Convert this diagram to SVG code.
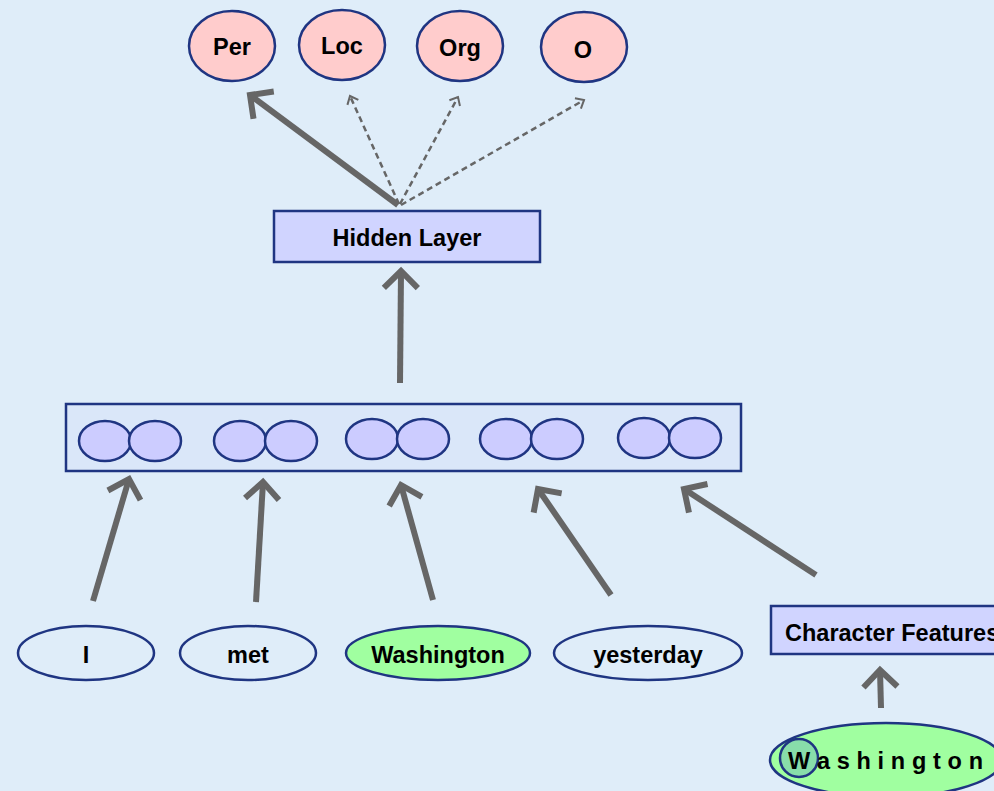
<svg xmlns="http://www.w3.org/2000/svg" width="994" height="791" viewBox="0 0 994 791">
  <defs>
    <style>
      .lbl { font-family: "Liberation Sans", Arial, sans-serif; font-weight: bold; font-size: 23.5px; fill: #000; text-anchor: middle; dominant-baseline: central; }
      .tag { fill: #FFCCCC; stroke: #1F3582; stroke-width: 2.5; }
      .word { fill: #DFEDF9; stroke: #1F3582; stroke-width: 2.5; }
      .hit { fill: #A0FFA0; stroke: #1F3582; stroke-width: 2.5; }
      .box { fill: #D0D4FF; stroke: #1F3582; stroke-width: 2.5; }
      .unit { fill: #CCCCFF; stroke: #1F3582; stroke-width: 2.5; }
      .thick { stroke: #666; stroke-width: 6; fill: none; marker-end: url(#chev); }
      .dash { stroke: #666; stroke-width: 2.5; fill: none; stroke-dasharray: 6 4; marker-end: url(#chevSmall); }
    </style>
    <marker id="chev" markerUnits="userSpaceOnUse" viewBox="-24 -24 30 48" markerWidth="30" markerHeight="48" refX="0" refY="0" orient="auto">
      <path d="M -17 -17 L 0 0 L -17 17" fill="none" stroke="#666" stroke-width="6" stroke-linejoin="miter"/>
    </marker>
    <marker id="chevSmall" markerUnits="userSpaceOnUse" viewBox="-10 -10 14 20" markerWidth="14" markerHeight="20" refX="0" refY="0" orient="auto">
      <path d="M -7 -6 L 0 0 L -7 6" fill="none" stroke="#666" stroke-width="2"/>
    </marker>
  </defs>

  <rect x="0" y="0" width="994" height="791" fill="#DFEDF9"/>

  <!-- connectors -->
  <g id="connectors">
    <line class="thick" x1="398" y1="205" x2="250" y2="95"/>
    <line class="dash" x1="399" y1="204" x2="350" y2="96"/>
    <line class="dash" x1="400" y1="204" x2="458" y2="97"/>
    <line class="dash" x1="401" y1="205" x2="584" y2="100"/>
    <line class="thick" x1="400" y1="383" x2="401" y2="271"/>
    <line class="thick" x1="93" y1="601" x2="129" y2="479"/>
    <line class="thick" x1="256" y1="602" x2="263" y2="482"/>
    <line class="thick" x1="433" y1="600" x2="401" y2="485"/>
    <line class="thick" x1="611" y1="595" x2="538" y2="489"/>
    <line class="thick" x1="816" y1="575" x2="684" y2="489"/>
    <line class="thick" x1="881" y1="708" x2="880" y2="670"/>
  </g>

  <!-- output tags -->
  <g id="tag-per"><ellipse class="tag" cx="232" cy="46" rx="43" ry="35"/><text class="lbl" x="232" y="47">Per</text></g>
  <g id="tag-loc"><ellipse class="tag" cx="342" cy="45" rx="43" ry="35"/><text class="lbl" x="342" y="46">Loc</text></g>
  <g id="tag-org"><ellipse class="tag" cx="460" cy="46" rx="43" ry="35"/><text class="lbl" x="460" y="48">Org</text></g>
  <g id="tag-o"><ellipse class="tag" cx="584" cy="47" rx="43" ry="35"/><text class="lbl" x="583" y="50">O</text></g>

  <!-- hidden layer -->
  <g id="hidden-layer">
    <rect class="box" x="274" y="211" width="266" height="51"/>
    <text class="lbl" x="407" y="238">Hidden Layer</text>
  </g>

  <!-- word embedding layer -->
  <g id="embeddings">
    <rect x="66" y="404" width="675" height="67" fill="#DAE7F9" stroke="#1F3582" stroke-width="2.5"/>
    <ellipse class="unit" cx="105" cy="441" rx="26" ry="20"/>
    <ellipse class="unit" cx="155" cy="441" rx="26" ry="20"/>
    <ellipse class="unit" cx="240" cy="441" rx="26" ry="20"/>
    <ellipse class="unit" cx="291" cy="441" rx="26" ry="20"/>
    <ellipse class="unit" cx="372" cy="439" rx="26" ry="20"/>
    <ellipse class="unit" cx="423" cy="439" rx="26" ry="20"/>
    <ellipse class="unit" cx="506" cy="439" rx="26" ry="20"/>
    <ellipse class="unit" cx="557" cy="439" rx="26" ry="20"/>
    <ellipse class="unit" cx="644" cy="438" rx="26" ry="20"/>
    <ellipse class="unit" cx="695" cy="438" rx="26" ry="20"/>
  </g>

  <!-- input words -->
  <g id="word-i"><ellipse class="word" cx="86" cy="653" rx="68" ry="27"/><text class="lbl" x="86" y="655">I</text></g>
  <g id="word-met"><ellipse class="word" cx="248" cy="653" rx="68" ry="27"/><text class="lbl" x="248" y="655">met</text></g>
  <g id="word-washington"><ellipse class="hit" cx="438" cy="653" rx="92" ry="27"/><text class="lbl" x="438" y="655">Washington</text></g>
  <g id="word-yesterday"><ellipse class="word" cx="648" cy="653" rx="94" ry="27"/><text class="lbl" x="648" y="655">yesterday</text></g>

  <!-- character features (box runs past the right edge) -->
  <g id="char-features">
    <rect class="box" x="771" y="606" width="240" height="48"/>
    <text class="lbl" x="785" y="633" style="text-anchor:start">Character Features</text>
  </g>

  <g id="char-washington">
    <ellipse class="hit" cx="886" cy="760" rx="116" ry="37"/>
    <circle cx="799" cy="758" r="19" fill="#88DDAA" stroke="#1F3582" stroke-width="2.5"/>
    <text class="lbl" x="788" y="761" style="text-anchor:start;letter-spacing:0.1px" fill="#101828">W a s h i n g t o n</text>
  </g>
</svg>
